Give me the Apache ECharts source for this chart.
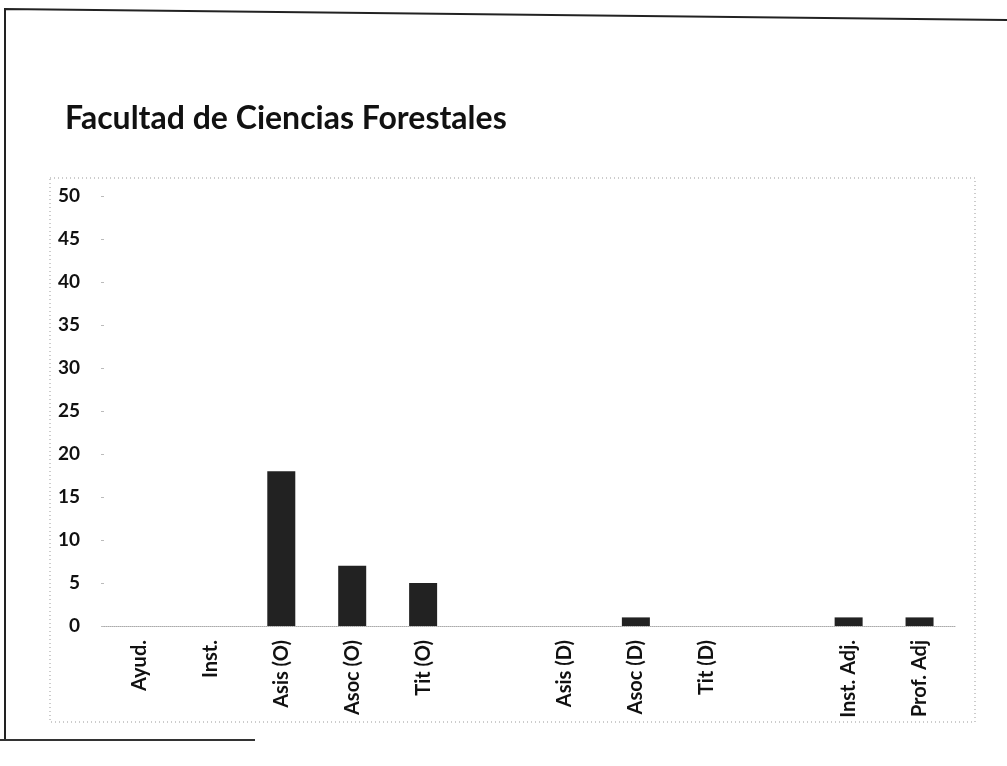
<!DOCTYPE html>
<html>
<head>
<meta charset="utf-8">
<script src="https://cdn.jsdelivr.net/npm/echarts@6/dist/echarts.min.js"></script>
<style>html,body{margin:0;padding:0;background:#fff;}#c{width:1007px;height:766px;}</style>
</head>
<body>
<div id="c"></div>
<script>
const categories = ['Ayud.', 'Inst.', 'Asis (O)', 'Asoc (O)', 'Tit (O)', '', 'Asis (D)', 'Asoc (D)', 'Tit (D)', '', 'Inst. Adj.', 'Prof. Adj'];
const values = [0, 0, 18, 7, 5, null, 0, 1, 0, null, 1, 1];
const yTicks = { min: 0, max: 50, interval: 5 };
const titleText = 'Facultad de Ciencias Forestales';

const chart = echarts.init(document.getElementById('c'), null, { renderer: 'canvas' });
const font = 'Lato, "Open Sans", sans-serif';
chart.setOption({
  animation: false,
  backgroundColor: '#fff',
  title: {
    text: titleText, left: 60, top: 98,
    textStyle: { fontFamily: font, fontWeight: 'bold', fontSize: 32, color: '#111' }
  },
  grid: { left: 104, right: 52, top: 196, bottom: 140 },
  xAxis: {
    type: 'category', data: categories,
    axisLine: { show: true, lineStyle: { color: '#aaa', type: 'dotted', width: 1 } },
    axisTick: { show: false },
    axisLabel: { rotate: 90, interval: 0, margin: 14, fontFamily: font, fontWeight: 'bold', fontSize: 20, color: '#111' }
  },
  yAxis: {
    type: 'value', min: yTicks.min, max: yTicks.max, interval: yTicks.interval,
    axisLine: { show: false },
    axisTick: { show: true, length: 3, lineStyle: { color: '#bbb' } },
    splitLine: { show: false },
    axisLabel: { margin: 24, fontFamily: font, fontWeight: 'bold', fontSize: 19, color: '#111' }
  },
  series: [{
    type: 'bar', data: values, barWidth: 28,
    itemStyle: { color: '#222' }
  }],
  graphic: [
    { type: 'polyline', shape: { points: [[5, 740], [5, 9], [1007, 20]] }, style: { stroke: '#222', lineWidth: 2, fill: null } },
    { type: 'line', shape: { x1: 0, y1: 740, x2: 255, y2: 740 }, style: { stroke: '#333', lineWidth: 2 } },
    { type: 'rect', shape: { x: 50, y: 178, width: 925, height: 544 }, style: { stroke: '#999', lineWidth: 1, lineDash: [1, 3], fill: null } }
  ]
});
</script>
</body>
</html>
